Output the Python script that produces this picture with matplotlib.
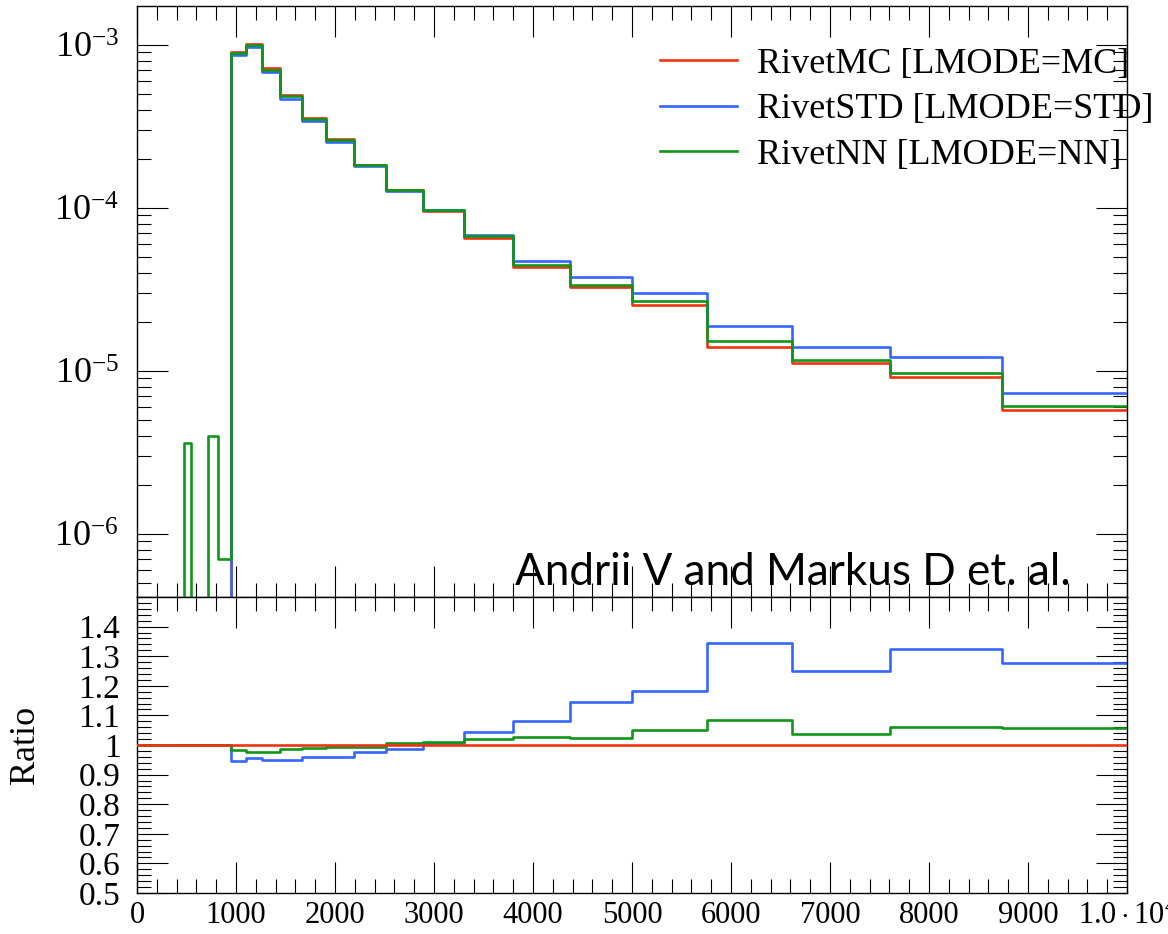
import numpy as np
import matplotlib
matplotlib.use("Agg")
import matplotlib.pyplot as plt
from matplotlib.ticker import LogLocator, MultipleLocator, FixedLocator, NullFormatter

plt.rcParams['font.family'] = ['Liberation Serif', 'DejaVu Serif']
plt.rcParams['mathtext.fontset'] = 'custom'
plt.rcParams['mathtext.rm'] = 'Liberation Serif'
plt.rcParams['mathtext.it'] = 'Liberation Serif:italic'

# bin edges (log-spaced in the original)
edges = [0, 474, 544, 624, 717, 823, 945, 1100, 1265, 1447, 1665, 1910, 2190,
         2513, 2890, 3308, 3800, 4370, 5000, 5757, 6616, 7606, 8737, 10000]

# reference histogram (RivetMC)
red_vals = [0, 0, 0, 0, 0, 0,
            9.1e-4, 1.02e-3, 7.2e-4, 4.94e-4, 3.55e-4, 2.64e-4, 1.84e-4,
            1.28e-4, 9.6e-5, 6.58e-5, 4.36e-5, 3.29e-5, 2.54e-5, 1.41e-5,
            1.12e-5, 9.14e-6, 5.74e-6]

# ratios to RivetMC, bins from 945 on
blue_ratio = [0.947, 0.955, 0.948, 0.950, 0.958, 0.958, 0.977, 0.986, 1.006,
              1.043, 1.081, 1.145, 1.182, 1.343, 1.250, 1.325, 1.278]
green_ratio = [0.983, 0.977, 0.978, 0.985, 0.990, 0.993, 0.994, 1.007, 1.011,
               1.019, 1.028, 1.025, 1.051, 1.086, 1.038, 1.060, 1.059]
# RivetNN has a few entries below 945 where the others are empty
green_low = [0, 3.6e-6, 0, 0, 4.0e-6, 7.0e-7]

labels = ["RivetMC [LMODE=MC]", "RivetSTD [LMODE=STD]", "RivetNN [LMODE=NN]"]
colors = ["#EE3311", "#3366FF", "#109618"]

xticks = [0, 1000, 2000, 3000, 4000, 5000, 6000, 7000, 8000, 9000, 10000]
xticklabels = ["0", "1000", "2000", "3000", "4000", "5000", "6000", "7000",
               "8000", "9000", r"$1.0\cdot10^4$"]
rticks = [0.5, 0.6, 0.7, 0.8, 0.9, 1.0, 1.1, 1.2, 1.3, 1.4]
rticklabels = ["0.5", "0.6", "0.7", "0.8", "0.9", "1", "1.1", "1.2", "1.3", "1.4"]

edges = np.array(edges, dtype=float)
red = np.array(red_vals)
nlow = len(green_low)
blue_r = np.ones(len(red)); blue_r[nlow:] = blue_ratio
green_r = np.ones(len(red)); green_r[nlow:] = green_ratio
blue = red * blue_r
green = red * green_r
green[:nlow] = green_low

fig = plt.figure(figsize=(11.68, 9.34), dpi=100)
W, H = 1168., 934.
x0, x1 = 137 / W, 1127 / W
ax = fig.add_axes([x0, 1 - 597 / H, x1 - x0, (597 - 6) / H])
axr = fig.add_axes([x0, 1 - 893 / H, x1 - x0, (893 - 597) / H], sharex=ax)


def stepline(a, y, c, lab=None, z=2):
    a.step(edges, np.append(y, y[-1]), where='post', color=c, lw=1.9,
           label=lab, zorder=z)


stepline(ax, red, colors[0], labels[0], 2)
stepline(ax, blue, colors[1], labels[1], 3)
stepline(ax, green, colors[2], labels[2], 4)
ax.set_yscale('log')
ax.set_xlim(0, 10000)
ax.set_ylim(10 ** -6.387, 10 ** -2.761)

stepline(axr, blue_r, colors[1], z=2)
stepline(axr, green_r, colors[2], z=3)
axr.axhline(1.0, color=colors[0], lw=1.9, zorder=4)
axr.set_ylim(0.5, 1.5)
axr.set_ylabel("Ratio", fontsize=26, labelpad=26)

for a in (ax, axr):
    a.tick_params(which='both', direction='in', top=True, right=True, width=0.8)
    a.tick_params(which='major', length=22)
    a.tick_params(which='minor', length=10)
    a.xaxis.set_minor_locator(MultipleLocator(200))
    for s in a.spines.values():
        s.set_linewidth(1.0)

ax.yaxis.set_major_locator(LogLocator(base=10, numticks=10))
ax.yaxis.set_minor_locator(LogLocator(base=10, subs=np.arange(2, 10), numticks=20))
ax.yaxis.set_minor_formatter(NullFormatter())
ax.tick_params(axis='y', labelsize=26, pad=13)
ax.tick_params(axis='x', labelbottom=False)

axr.set_xticks(xticks)
axr.set_xticklabels(xticklabels)
axr.yaxis.set_major_locator(FixedLocator(rticks))
axr.set_yticklabels(rticklabels)
axr.yaxis.set_minor_locator(MultipleLocator(0.02))
axr.tick_params(axis='x', labelsize=22, pad=6)
axr.tick_params(axis='y', labelsize=24, pad=12)

ax.legend(loc='upper left', bbox_to_anchor=(0.528, 0.93), frameon=False,
          fontsize=26, handlelength=2.15, handletextpad=0.55,
          labelspacing=0.34, borderpad=0, borderaxespad=0)

ax.text(0.382, 0.02, "Andrii V and Markus D et. al.", transform=ax.transAxes,
        family=['Lato', 'DejaVu Sans'], fontsize=31.7, ha='left', va='baseline')

fig.savefig("out.png", dpi=100)
